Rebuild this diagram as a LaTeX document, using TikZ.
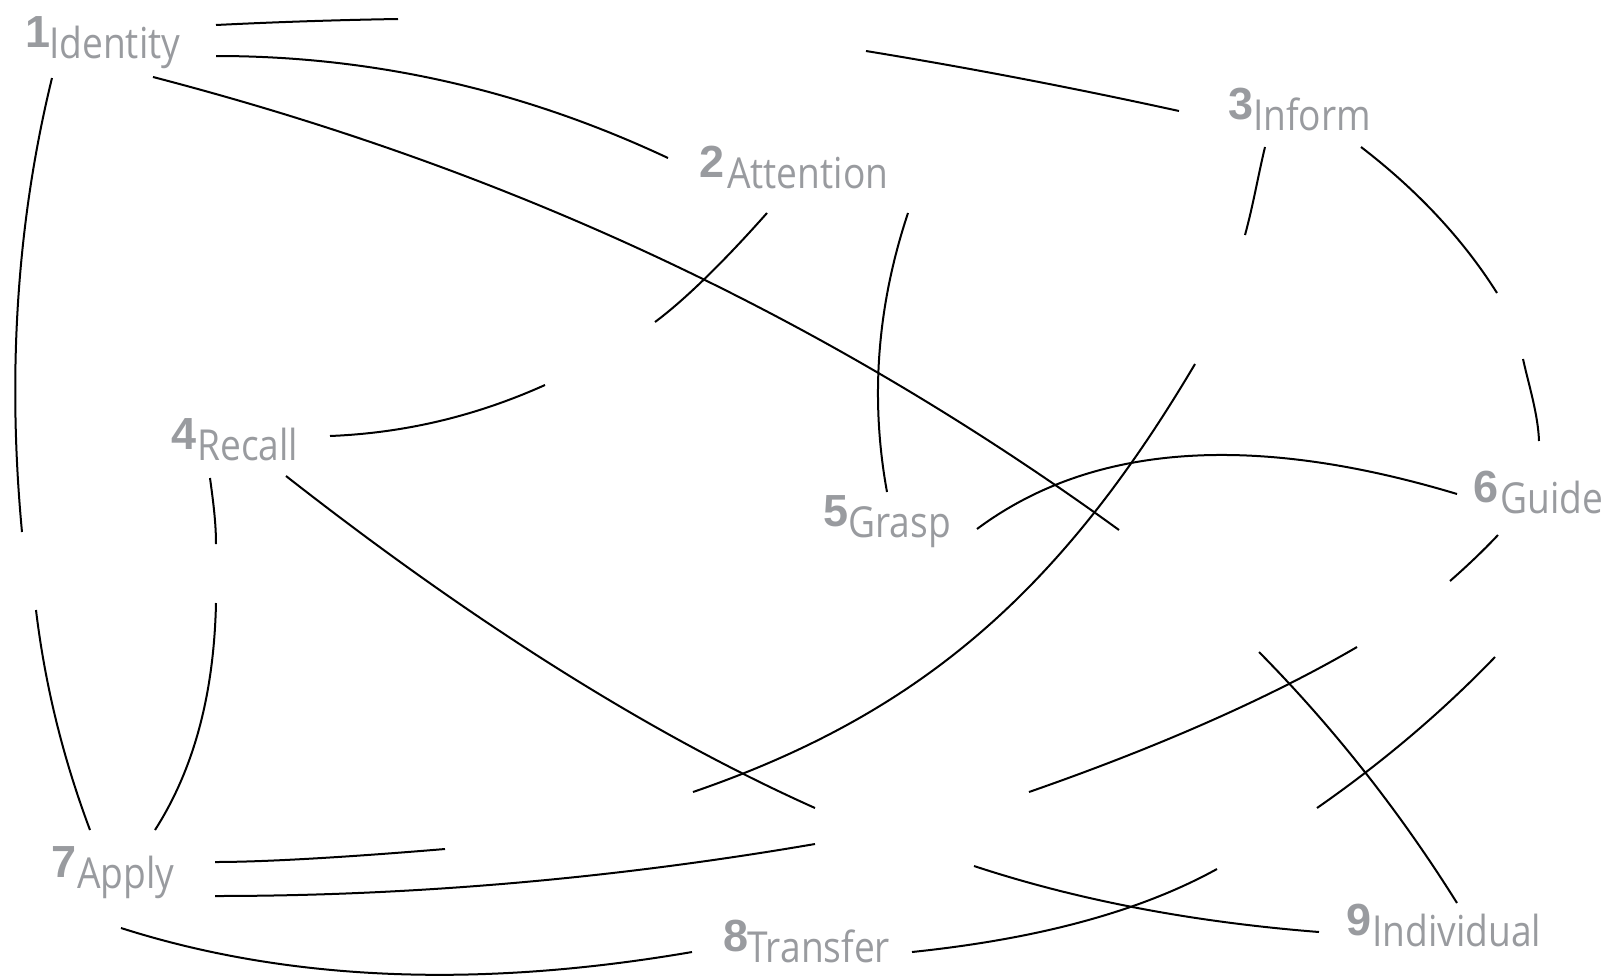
\documentclass[tikz,border=0pt]{standalone}
\usepackage{fontspec}
\newfontfamily\labfont[FakeStretch=0.87]{Open Sans}
\newfontfamily\numfont{Liberation Sans}
\definecolor{labgray}{RGB}{153,155,159}
\begin{document}
\begin{tikzpicture}[x=1pt,y=-1pt,
  lab/.style={anchor=base west, inner sep=0pt, text=labgray, font=\labfont\fontsize{42.7}{48}\selectfont},
  num/.style={anchor=base west, inner sep=0pt, text=labgray, font=\numfont\bfseries\fontsize{45}{50}\selectfont},
  conn/.style={draw=black, line width=2pt}]
\useasboundingbox (0,0) rectangle (1603,977);

% labels
\node[lab] (identity)   at (49,58)    {Identity};
\node[lab] (attention)  at (727,188)  {Attention};
\node[lab] (inform)     at (1253,130) {Inform};
\node[lab] (recall)     at (197,460)  {Recall};
\node[lab] (grasp)      at (848,537)  {Grasp};
\node[lab] (guide)      at (1500,513) {Guide};
\node[lab] (apply)      at (77,888)   {Apply};
\node[lab] (transfer)   at (747,962)  {Transfer};
\node[lab] (individual) at (1372,946) {Individual};

\node[num] (n1) at (25,47)    {1};
\node[num] (n2) at (699,177)  {2};
\node[num] (n3) at (1228,119) {3};
\node[num] (n4) at (171,449)  {4};
\node[num] (n5) at (823,526)  {5};
\node[num] (n6) at (1473,502) {6};
\node[num] (n7) at (51,877)   {7};
\node[num] (n8) at (723,951)  {8};
\node[num] (n9) at (1346,935) {9};

% connector ends
\coordinate (a1) at (216,25);   \coordinate (a2) at (398,19);
\coordinate (a3) at (866,51);   \coordinate (a4) at (1179,111);
\coordinate (b1) at (216,56);   \coordinate (b2) at (668,158);
\coordinate (c1) at (153,77);   \coordinate (c2) at (1119,530);
\coordinate (c3) at (1259,652); \coordinate (c4) at (1457,903);
\coordinate (d1) at (52,78);    \coordinate (d2) at (22,532);
\coordinate (d3) at (36,610);   \coordinate (d4) at (90,830);
\coordinate (e1) at (767,213);  \coordinate (e2) at (655,322);
\coordinate (e3) at (545,385);  \coordinate (e4) at (330,436);
\coordinate (f1) at (908,213);  \coordinate (f2) at (887,492);
\coordinate (g1) at (1265,147); \coordinate (g2) at (1245,235);
\coordinate (g3) at (1195,364); \coordinate (g4) at (693,792);
\coordinate (g5) at (445,849);  \coordinate (g6) at (215,862);
\coordinate (h1) at (1361,147); \coordinate (h2) at (1497,293);
\coordinate (h3) at (1523,359); \coordinate (h4) at (1539,441);
\coordinate (i1) at (977,529);  \coordinate (i2) at (1457,494);
\coordinate (j1) at (210,478);  \coordinate (j2) at (216,544);
\coordinate (j3) at (216,603);  \coordinate (j4) at (155,830);
\coordinate (k1) at (286,476);  \coordinate (k2) at (815,808);
\coordinate (k3) at (974,866);  \coordinate (k4) at (1319,932);
\coordinate (l1) at (1498,535); \coordinate (l2) at (1450,581);
\coordinate (l3) at (1357,647); \coordinate (l4) at (1029,792);
\coordinate (l5) at (815,844);  \coordinate (l6) at (215,896);
\coordinate (m1) at (1495,657); \coordinate (m2) at (1317,808);
\coordinate (m3) at (1217,869); \coordinate (m4) at (912,952);
\coordinate (p1) at (121,928);  \coordinate (p2) at (692,952);

% Identity - Inform
\draw[conn] (a1) .. controls (277,22) and (337,20) .. (a2);
\draw[conn] (a3) .. controls (970,68) and (1074,88) .. (a4);
% Identity - Attention
\draw[conn] (b1) .. controls (373,56) and (523,90) .. (b2);
% Identity - Individual
\draw[conn] (c1) .. controls (472,160) and (795,295) .. (c2);
\draw[conn] (c3) .. controls (1334,728) and (1400,812) .. (c4);
% Identity - Apply
\draw[conn] (d1) .. controls (17,221) and (7,373) .. (d2);
\draw[conn] (d3) .. controls (45,685) and (63,758) .. (d4);
% Attention - Recall
\draw[conn] (e1) .. controls (720,266) and (682,302) .. (e2);
\draw[conn] (e3) .. controls (476,416) and (405,433) .. (e4);
% Attention - Grasp
\draw[conn] (f1) .. controls (877,306) and (870,399) .. (f2);
% Inform - Apply
\draw[conn] (g1) .. controls (1258,176) and (1253,206) .. (g2);
\draw[conn] (g3) .. controls (1060,592) and (920,714) .. (g4);
\draw[conn] (g5) .. controls (337,858) and (260,862) .. (g6);
% Inform - Guide
\draw[conn] (h1) .. controls (1417,190) and (1463,239) .. (h2);
\draw[conn] (h3) .. controls (1529,386) and (1538,414) .. (h4);
% Grasp - Guide
\draw[conn] (i1) .. controls (1091,444) and (1251,432) .. (i2);
% Recall - Apply
\draw[conn] (j1) .. controls (213,500) and (216,522) .. (j2);
\draw[conn] (j3) .. controls (214,694) and (194,769) .. (j4);
% Recall - Individual
\draw[conn] (k1) .. controls (475,624) and (652,735) .. (k2);
\draw[conn] (k3) .. controls (1077,900) and (1192,922) .. (k4);
% Guide - Apply
\draw[conn] (l1) .. controls (1483,551) and (1466,567) .. (l2);
\draw[conn] (l3) .. controls (1273,696) and (1164,745) .. (l4);
\draw[conn] (l5) .. controls (611,879) and (411,896) .. (l6);
% Guide - Transfer
\draw[conn] (m1) .. controls (1442,712) and (1383,762) .. (m2);
\draw[conn] (m3) .. controls (1139,912) and (1037,939) .. (m4);
% Apply - Transfer
\draw[conn] (p1) .. controls (287,981) and (477,989) .. (p2);
\end{tikzpicture}
\end{document}
